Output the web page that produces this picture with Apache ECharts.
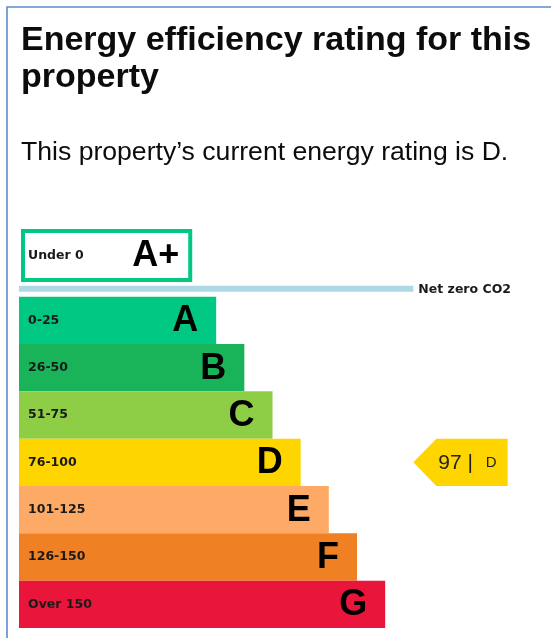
<!DOCTYPE html>
<html>
<head>
<meta charset="utf-8">
<script src="https://cdn.jsdelivr.net/npm/echarts@6/dist/echarts.min.js"></script>
<style>
html, body { margin: 0; padding: 0; background: #fff; }
#chart { width: 551px; height: 638px; }
</style>
</head>
<body>
<div id="chart"></div>
<script>
(() => {
    'use strict'

    const echarts = window.echarts

    // rating bands, best to worst
    const bandLetters = ['A', 'B', 'C', 'D', 'E', 'F', 'G']
    const bandRanges = ['0-25', '26-50', '51-75', '76-100', '101-125', '126-150', 'Over 150']
    const bandLengths = [7, 8, 9, 10, 11, 12, 13]
    const bandColors = ['#00c781', '#19b459', '#8dce46', '#ffd500', '#fcaa65', '#ef8023', '#e9153b']

    // the A+ band sits above the net zero line
    const plusLetter = 'A+'
    const plusRange = 'Under 0'
    const plusLength = 6.15
    const plusColor = '#00c781'

    const netZeroLabel = 'Net zero CO2'
    const netZeroLength = 14

    const currentScore = 97
    const currentBand = 'D'

    const TEXT = '#0b0c0c'
    const SANS = '"Liberation Sans", Arial, sans-serif'
    const NARROW = '"Liberation Sans Narrow", "Arial Narrow", "Liberation Sans", sans-serif'
    const SMALL = '"DejaVu Sans", Tahoma, sans-serif'

    const chart = echarts.init(document.getElementById('chart'))

    const renderBand = (params, api) => {
        const i = api.value(0)
        const p0 = api.coord([0, i])
        const p1 = api.coord([api.value(1), i + 1])
        const h = p1[1] - p0[1]
        return {
            type: 'group',
            children: [
                {
                    type: 'rect',
                    shape: {x: p0[0], y: p0[1], width: p1[0] - p0[0], height: h},
                    style: {fill: bandColors[i]}
                },
                {
                    type: 'text',
                    style: {
                        x: p0[0] + 9, y: p0[1] + h / 2,
                        text: bandRanges[i],
                        fontFamily: SMALL, fontSize: 12.5, fontWeight: 'bold',
                        fill: '#1a1a1a', verticalAlign: 'middle'
                    }
                },
                {
                    type: 'text',
                    style: {
                        x: p1[0] - 18, y: p0[1] + h / 2 + 1,
                        text: bandLetters[i],
                        fontFamily: SANS, fontSize: 36, fontWeight: 'bold',
                        fill: '#000', align: 'right', verticalAlign: 'middle'
                    }
                }
            ]
        }
    }

    const renderPlus = (params, api) => {
        const p0 = api.coord([0, -1.43])
        const p1 = api.coord([api.value(1), -0.31])
        const netA = api.coord([0, -0.17])
        const netB = api.coord([netZeroLength, -0.17])
        return {
            type: 'group',
            children: [
                {
                    type: 'rect',
                    shape: {x: p0[0] + 4, y: p0[1] + 2, width: p1[0] - p0[0] - 6, height: p1[1] - p0[1] - 4},
                    style: {fill: '#fff', stroke: plusColor, lineWidth: 4}
                },
                {
                    type: 'text',
                    style: {
                        x: p0[0] + 9, y: (p0[1] + p1[1]) / 2,
                        text: plusRange,
                        fontFamily: SMALL, fontSize: 12.5, fontWeight: 'bold',
                        fill: '#1a1a1a', verticalAlign: 'middle'
                    }
                },
                {
                    type: 'text',
                    style: {
                        x: p1[0] - 13, y: (p0[1] + p1[1]) / 2 + 1,
                        text: plusLetter,
                        fontFamily: SANS, fontSize: 36, fontWeight: 'bold',
                        fill: '#000', align: 'right', verticalAlign: 'middle'
                    }
                },
                {
                    type: 'line',
                    shape: {x1: netA[0], y1: netA[1], x2: netB[0], y2: netB[1]},
                    style: {stroke: '#add8e6', lineWidth: 6}
                },
                {
                    type: 'text',
                    style: {
                        x: netB[0] + 5, y: netB[1] + 1,
                        text: netZeroLabel,
                        fontFamily: SMALL, fontSize: 12.5, fontWeight: 'bold',
                        fill: '#1a1a1a', verticalAlign: 'middle'
                    }
                }
            ]
        }
    }

    const renderPointer = (params, api) => {
        const i = api.value(0)
        const a = api.coord([14, i])
        const b = api.coord([17.35, i + 1])
        const mid = (a[1] + b[1]) / 2
        const tip = 23
        return {
            type: 'group',
            children: [
                {
                    type: 'polygon',
                    shape: {points: [[a[0], mid], [a[0] + tip, a[1]], [b[0], a[1]], [b[0], b[1]], [a[0] + tip, b[1]]]},
                    style: {fill: bandColors[i]}
                },
                {
                    type: 'text',
                    style: {
                        x: a[0] + tip + 2, y: mid + 1,
                        text: api.value(1) + ' |',
                        fontFamily: NARROW, fontSize: 21,
                        fill: '#222', verticalAlign: 'middle'
                    }
                },
                {
                    type: 'text',
                    style: {
                        x: b[0] - 22, y: mid + 1,
                        text: currentBand,
                        fontFamily: SANS, fontSize: 15,
                        fill: '#222', verticalAlign: 'middle'
                    }
                }
            ]
        }
    }

    const option = {
        animation: false,
        backgroundColor: '#fff',
        title: [
            {
                text: 'Energy efficiency rating for this\nproperty',
                left: 21,
                top: 22,
                padding: 0,
                textStyle: {fontFamily: SANS, fontSize: 34, fontWeight: 'bold', color: TEXT, lineHeight: 37}
            },
            {
                text: 'This property\u2019s current energy rating is D.',
                left: 21,
                top: 138,
                padding: 0,
                textStyle: {fontFamily: SANS, fontSize: 26.6, fontWeight: 'normal', color: TEXT, lineHeight: 30}
            }
        ],
        graphic: [{
            type: 'polyline',
            shape: {points: [[7, 638], [7, 7], [551, 7]]},
            style: {stroke: '#5b8bd0', lineWidth: 1.6, fill: null}
        }],
        grid: {left: 19, right: 25, top: 229, bottom: 10},
        xAxis: {type: 'value', min: 0, max: 18, show: false},
        yAxis: {type: 'value', min: -1.43, max: 7, inverse: true, show: false},
        series: [
            {
                type: 'custom',
                renderItem: renderBand,
                data: bandLetters.map((l, i) => [i, bandLengths[i]])
            },
            {
                type: 'custom',
                renderItem: renderPlus,
                data: [[-1, plusLength]]
            },
            {
                type: 'custom',
                renderItem: renderPointer,
                data: [[bandLetters.indexOf(currentBand), currentScore]]
            }
        ]
    }

    chart.setOption(option)
})()
</script>
</body>
</html>
